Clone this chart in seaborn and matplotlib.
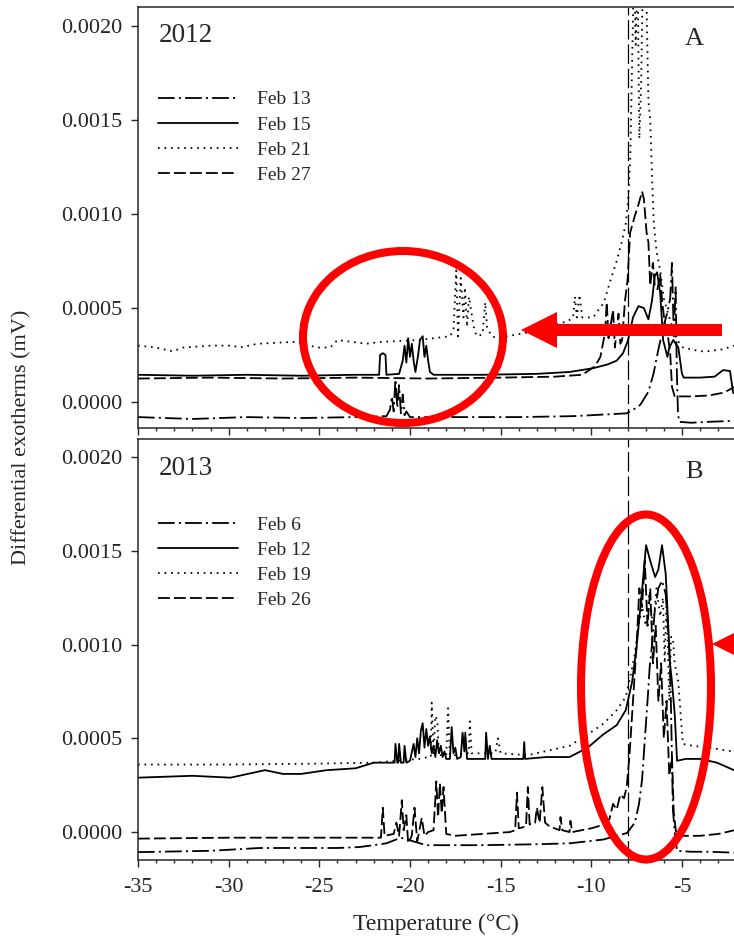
import numpy as np
import matplotlib
matplotlib.use("Agg")
import matplotlib.pyplot as plt
from matplotlib.patches import Ellipse, Polygon
from matplotlib.ticker import MultipleLocator, FormatStrFormatter
import seaborn as sns

# (temperature degC, exotherm in 1e-4 mV)
# ---- 2012 ----
feb13_2012 = [(-35, -0.8), (-32, -0.9), (-29, -0.8), (-26, -0.85), (-23, -0.8), (-21.3, -0.75),
              (-21.1, -0.4), (-21.0, 0.3), (-20.9, -0.5), (-20.8, 1.2), (-20.7, -0.3), (-20.6, 0.9),
              (-20.5, -0.6), (-20.4, 0.4), (-20.3, -0.7), (-20.2, -0.5), (-20.0, -0.8), (-17, -0.8),
              (-14, -0.8), (-11, -0.75), (-8.05, -0.6), (-7.6, -0.35), (-7.3, -0.15), (-6.85, 0.55),
              (-6.57, 1.5), (-6.3, 2.8), (-6.02, 4.0), (-5.8, 4.8), (-5.65, 5.5), (-5.55, 7.4),
              (-5.45, 3.5), (-5.35, 6.1), (-5.28, 1.5), (-5.22, -0.6), (-5.15, -1.05), (-4.5, -1.1),
              (-3.5, -1.05), (-2.1, -1.0)]
feb15_2012 = [(-35, 1.45), (-32, 1.4), (-29, 1.45), (-26, 1.4), (-23, 1.45), (-21.7, 1.45),
              (-21.65, 2.5), (-21.5, 2.6), (-21.35, 2.5), (-21.3, 1.45), (-20.6, 1.5), (-20.4, 2.2),
              (-20.3, 3.0), (-20.2, 2.1), (-20.1, 3.4), (-20.0, 2.4), (-19.9, 3.1), (-19.8, 2.2),
              (-19.7, 1.6), (-19.55, 2.5), (-19.45, 3.3), (-19.3, 3.5), (-19.2, 2.4), (-19.1, 3.0),
              (-19.0, 2.2), (-18.9, 1.6), (-18.7, 1.45), (-16, 1.45), (-13, 1.5), (-11.2, 1.6),
              (-9.9, 1.8), (-9.1, 2.0), (-8.6, 2.2), (-8.25, 2.6), (-7.97, 3.3), (-7.7, 4.5),
              (-7.4, 5.1), (-7.1, 5.0), (-6.85, 4.4), (-6.65, 5.4), (-6.5, 6.7), (-6.37, 6.9),
              (-6.2, 5.8), (-6.04, 3.3), (-5.8, 2.4), (-5.7, 2.9), (-5.48, 3.3), (-5.2, 2.9),
              (-5.0, 1.5), (-4.9, 1.3), (-4.0, 1.3), (-3.2, 1.35), (-2.73, 1.7), (-2.35, 1.65),
              (-2.18, 0.5), (-2.1, 0.45)]
feb21_2012 = [(-35, 3.0), (-34, 2.9), (-33.1, 2.7), (-32.5, 2.9), (-31, 3.0), (-29.8, 3.0),
              (-29.4, 2.9), (-28.4, 3.1), (-26.4, 3.2), (-25.1, 2.9), (-24.4, 2.9), (-24.0, 3.3),
              (-22.4, 3.1), (-21.6, 3.2), (-19.5, 3.3), (-17.8, 3.5), (-17.6, 3.8), (-17.45, 7.0),
              (-17.35, 3.5), (-17.2, 6.6), (-17.05, 4.5), (-16.97, 6.1), (-16.85, 4.0), (-16.75, 5.6),
              (-16.6, 4.7), (-16.45, 3.8), (-16.3, 3.5), (-16.0, 3.6), (-15.85, 5.3), (-15.75, 4.0),
              (-15.5, 3.5), (-15.2, 3.4), (-13.5, 3.7), (-11.3, 4.3), (-11.0, 4.5), (-10.9, 5.6),
              (-10.8, 4.5), (-10.65, 5.7), (-10.5, 4.5), (-9.9, 4.5), (-9.3, 5.3), (-9.0, 6.3),
              (-8.6, 7.5), (-8.3, 8.6), (-8.1, 9.5), (-7.97, 10.7), (-7.85, 13), (-7.75, 18),
              (-7.65, 23), (-7.55, 19), (-7.45, 23), (-7.35, 14), (-7.25, 17), (-7.15, 23),
              (-7.05, 22), (-6.95, 21), (-6.85, 16), (-6.75, 15), (-6.65, 12), (-6.55, 9.5),
              (-6.4, 8.0), (-6.2, 7.0), (-6.0, 5.5), (-5.7, 4.5), (-5.4, 3.6), (-5.27, 3.3),
              (-4.94, 2.9), (-4.0, 2.7), (-3.6, 2.7), (-2.8, 2.8), (-2.1, 3.0)]
feb27_2012 = [(-35, 1.25), (-31, 1.3), (-27, 1.25), (-23, 1.3), (-19, 1.25), (-15, 1.3),
              (-12, 1.35), (-10.5, 1.45), (-9.8, 1.9), (-9.5, 2.4), (-9.24, 3.7), (-9.15, 5.3),
              (-9.05, 3.4), (-8.95, 4.0), (-8.8, 4.9), (-8.7, 2.9), (-8.5, 4.7), (-8.4, 3.1),
              (-8.3, 3.3), (-8.14, 5.4), (-8.0, 6.5), (-7.86, 9.0), (-7.6, 9.9), (-7.4, 10.5),
              (-7.2, 11.2), (-7.1, 10.8), (-6.95, 9.0), (-6.85, 8.5), (-6.75, 6.2), (-6.6, 7.4),
              (-6.5, 6.2), (-6.35, 6.0), (-6.2, 6.8), (-6.1, 5.4), (-5.95, 4.2), (-5.8, 3.7),
              (-5.65, 2.6), (-5.55, 0.8), (-5.4, 0.3), (-5.3, 0.3), (-4.5, 0.3), (-3.5, 0.35),
              (-2.7, 0.5), (-2.1, 0.8)]

# ---- 2013 ----
feb6_2013 = [(-35, -1.07), (-31, -1.0), (-28.3, -0.85), (-24, -0.85), (-22.8, -0.8), (-22.0, -0.7),
             (-21.3, -0.6), (-20.5, -0.3), (-19.8, -0.5), (-19.1, -0.7), (-16, -0.7), (-13, -0.65),
             (-11.2, -0.6), (-9.35, -0.4), (-8.03, -0.05), (-7.6, 0.5), (-7.37, 1.5), (-7.2, 2.8),
             (-7.1, 4.2), (-7.0, 5.6), (-6.87, 7.4), (-6.78, 8.8), (-6.65, 10.0), (-6.5, 11.8),
             (-6.3, 13.0), (-6.1, 13.4), (-5.9, 12.7), (-5.78, 11.1), (-5.68, 9.2), (-5.62, 7.4),
             (-5.55, 3.8), (-5.5, 1.2), (-5.4, 0.0), (-5.27, -1.0), (-4.5, -1.05), (-3.5, -1.05),
             (-2.1, -1.1)]
feb12_2013 = [(-35, 2.9), (-32, 3.0), (-29.9, 2.9), (-28.0, 3.3), (-27, 3.1), (-26, 3.1),
              (-24.6, 3.3), (-23, 3.4), (-22.0, 3.7), (-21.0, 3.7), (-20.85, 3.7), (-20.8, 4.7),
              (-20.7, 3.7), (-20.65, 3.7), (-20.6, 4.7), (-20.5, 3.7), (-20.35, 3.7), (-20.3, 4.6),
              (-20.2, 3.7), (-20.0, 3.8), (-19.8, 4.7), (-19.7, 4.0), (-19.6, 5.0), (-19.5, 4.2),
              (-19.4, 5.4), (-19.3, 5.8), (-19.2, 4.5), (-19.1, 5.5), (-19.0, 4.6), (-18.9, 5.1),
              (-18.8, 4.2), (-18.7, 4.6), (-18.6, 4.0), (-18.5, 4.9), (-18.4, 4.2), (-18.3, 4.6),
              (-18.2, 4.0), (-18.1, 4.3), (-18.0, 3.9), (-17.8, 3.9), (-17.7, 5.6), (-17.6, 4.2),
              (-17.5, 4.5), (-17.4, 3.9), (-17.2, 4.0), (-17.1, 5.3), (-17.0, 4.3), (-16.95, 5.3),
              (-16.85, 3.9), (-16.0, 3.9), (-15.85, 3.9), (-15.8, 5.3), (-15.7, 3.9), (-15.6, 4.6),
              (-15.5, 3.9), (-14, 3.9), (-13.75, 3.9), (-13.7, 4.8), (-13.65, 3.9), (-12.5, 4.0),
              (-11.2, 4.0), (-10.2, 4.5), (-9.35, 5.2), (-8.6, 5.7), (-8.1, 6.5), (-7.75, 8.0),
              (-7.5, 9.9), (-7.2, 12.9), (-6.98, 15.3), (-6.76, 14.5), (-6.48, 13.6), (-6.3, 14.0),
              (-6.1, 15.3), (-5.9, 13.8), (-5.78, 11.5), (-5.66, 9.0), (-5.55, 8.0), (-5.4, 6.3),
              (-5.27, 3.8), (-4.8, 3.9), (-4.0, 3.9), (-3.07, 3.7), (-2.13, 3.3)]
feb19_2013 = [(-35, 3.6), (-30, 3.6), (-25, 3.65), (-22, 3.7), (-19.5, 3.9), (-19.0, 4.0),
              (-18.85, 4.0), (-18.8, 6.9), (-18.7, 4.2), (-18.6, 6.2), (-18.5, 6.0), (-18.4, 4.1),
              (-18.2, 4.1), (-18.0, 4.1), (-17.9, 6.6), (-17.8, 4.1), (-17.5, 4.1), (-17.0, 4.2),
              (-16.75, 4.2), (-16.7, 5.9), (-16.6, 4.2), (-16.4, 4.2), (-15.3, 4.2), (-15.15, 5.0),
              (-15.0, 4.2), (-13.5, 4.1), (-11.2, 4.6), (-10.2, 5.2), (-9.3, 5.8), (-8.6, 6.5),
              (-8.1, 7.2), (-7.8, 8.5), (-7.6, 9.5), (-7.4, 11.0), (-7.2, 12.0), (-7.0, 11.0),
              (-6.8, 12.7), (-6.6, 11.0), (-6.4, 13.0), (-6.2, 11.5), (-6.05, 12.5), (-5.95, 9.0),
              (-5.85, 12.5), (-5.7, 7.0), (-5.6, 10.4), (-5.5, 10.4), (-5.4, 9.0), (-5.2, 8.0),
              (-5.05, 6.0), (-4.95, 4.7), (-4.4, 4.6), (-3.5, 4.5), (-2.2, 4.3)]
feb26_2013 = [(-35, -0.35), (-30, -0.3), (-25, -0.3), (-21.6, -0.3), (-21.5, 1.3), (-21.4, -0.2),
              (-20.9, -0.1), (-20.75, 0.5), (-20.6, -0.2), (-20.45, 1.7), (-20.35, 0.1), (-20.2, 0.9),
              (-20.1, -0.6), (-19.9, -0.2), (-19.75, 1.3), (-19.6, -0.5), (-19.35, 0.75), (-19.2, -0.2),
              (-19.0, 0.0), (-18.7, 0.1), (-18.55, 2.7), (-18.45, 0.8), (-18.35, 2.6), (-18.25, 1.0),
              (-18.15, 2.4), (-18.0, -0.1), (-17.5, -0.2), (-16, -0.1), (-14.5, 0.0), (-14.2, 0.1),
              (-14.1, 2.1), (-14.0, 0.2), (-13.6, 0.3), (-13.5, 2.4), (-13.4, 0.4), (-13.1, 0.5),
              (-13.0, 1.3), (-12.85, 0.5), (-12.7, 2.4), (-12.55, 0.5), (-12.3, 0.3), (-11.75, 0.1),
              (-11.7, 0.8), (-11.6, 0.1), (-11.2, 0.0), (-11.15, 0.6), (-11.05, 0.0), (-10, 0.2),
              (-9.3, 0.4), (-9.0, 0.7), (-8.8, 1.5), (-8.6, 1.2), (-8.4, 2.0), (-8.2, 1.8),
              (-8.05, 2.4), (-7.9, 4.0), (-7.7, 7.0), (-7.5, 10.0), (-7.35, 13.0), (-7.2, 12.0),
              (-7.05, 14.5), (-6.9, 11.0), (-6.75, 13.0), (-6.6, 9.0), (-6.45, 11.0), (-6.3, 7.0),
              (-6.15, 9.0), (-6.0, 5.0), (-5.85, 7.0), (-5.7, 3.0), (-5.55, 4.0), (-5.45, 1.0),
              (-5.3, -0.2), (-5.0, -0.2), (-4.0, -0.2), (-3.0, -0.1), (-2.1, 0.1)]

labels_2012 = ["Feb 13", "Feb 15", "Feb 21", "Feb 27"]
labels_2013 = ["Feb 6", "Feb 12", "Feb 19", "Feb 26"]
ref_temp = -8.0

sns.set_style("ticks")
plt.rcParams["font.family"] = ["Liberation Serif", "DejaVu Serif"]
plt.rcParams["axes.unicode_minus"] = False
plt.rcParams["lines.scale_dashes"] = False

W, H = 734, 938
fig = plt.figure(figsize=(W / 100, H / 100), dpi=100)
ax_top = fig.add_axes([138 / W, 1 - 428 / H, 596 / W, 421 / H])
ax_bot = fig.add_axes([138 / W, 1 - 860 / H, 596 / W, 421 / H])

line_styles = [(0, (12, 3, 1.5, 3)), "-", (0, (1.2, 3.5)), (0, (8.5, 3))]


def draw_panel(ax, series, labels, year, letter, ylim, year_y, letter_y, leg_y):
    for pts, lab, ls in zip(series, labels, line_styles):
        x, y = zip(*pts)
        sns.lineplot(x=np.array(x), y=np.array(y) * 1e-4, ax=ax, color="black", lw=1.3,
                     linestyle=ls, label=lab, sort=False, estimator=None)
    ax.axvline(ref_temp, color="black", lw=0.9, linestyle=(0, (14, 3.5)))

    ax.set_xlim(-35, -2.13)
    ax.set_ylim(*ylim)
    ax.xaxis.set_major_locator(MultipleLocator(5))
    ax.xaxis.set_minor_locator(MultipleLocator(1))
    ax.yaxis.set_major_locator(MultipleLocator(0.0005))
    ax.yaxis.set_major_formatter(FormatStrFormatter("%.4f"))
    ax.tick_params(axis="both", which="major", direction="out", labelsize=16, width=1)
    ax.tick_params(axis="x", which="major", length=5, pad=8)
    ax.tick_params(axis="x", which="minor", length=2.5, width=1)
    ax.tick_params(axis="y", which="major", length=5, pad=6)
    ax.spines["right"].set_visible(False)
    for s in ["left", "bottom", "top"]:
        ax.spines[s].set_linewidth(1.1)
    ax.set_xlabel("")
    ax.set_ylabel("")

    ax.legend(loc="upper left", bbox_to_anchor=(0.034, leg_y), frameon=False, fontsize=14,
              handlelength=4.1, handletextpad=1.0, labelspacing=0.39, borderpad=0,
              borderaxespad=0)
    ax.text(0.034, year_y, year, transform=ax.transAxes, fontsize=19.5, ha="left", va="center")
    ax.text(0.933, letter_y, letter, transform=ax.transAxes, fontsize=19, ha="center", va="center")


draw_panel(ax_top, [feb13_2012, feb15_2012, feb21_2012, feb27_2012], labels_2012,
           "2012", "A", (-0.000138, 0.002101), 0.933, 0.924, 0.801)
draw_panel(ax_bot, [feb6_2013, feb12_2013, feb19_2013, feb26_2013], labels_2013,
           "2013", "B", (-0.000149, 0.002096), 0.929, 0.921, 0.817)
ax_top.tick_params(axis="x", labelbottom=False)

ax_bot.set_xlabel("Temperature (\u00b0C)", fontsize=17, labelpad=12)
fig.text(22 / W, 1 - 437 / H, "Differential exotherms (mV)", rotation=90,
         ha="center", va="center", fontsize=16)


# red highlight marks drawn over the figure (pixel positions)
def fp(x, y):
    return (x / W, 1 - y / H)


red = "#ff0000"
for cx, cy, w, h in [(403, 337, 200, 172), (646, 687, 130, 345)]:
    fig.add_artist(Ellipse(fp(cx, cy), w / W, h / H, transform=fig.transFigure,
                           fill=False, edgecolor=red, lw=5.8))
for tip_x, tip_y, tail_x in [(521, 330, 722), (712, 644, 920)]:
    pts = [(tip_x, tip_y), (tip_x + 36, tip_y - 18), (tip_x + 36, tip_y - 6),
           (tail_x, tip_y - 6), (tail_x, tip_y + 6), (tip_x + 36, tip_y + 6),
           (tip_x + 36, tip_y + 18)]
    fig.add_artist(Polygon([fp(*p) for p in pts], closed=True, transform=fig.transFigure,
                           facecolor=red, edgecolor="none"))

fig.savefig("out.png", dpi=100)
